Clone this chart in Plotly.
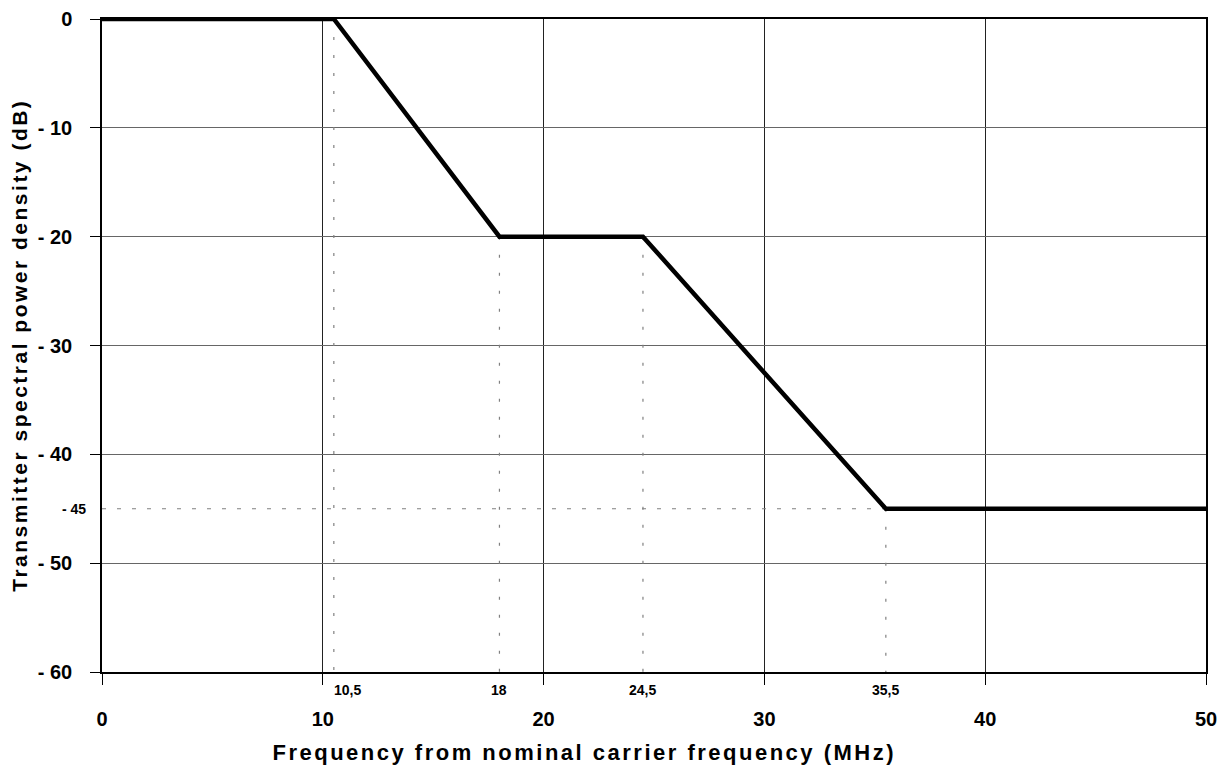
import plotly.graph_objects as go

# Data
freq = [0, 10.5, 18, 24.5, 35.5, 50]
psd = [0, 0, -20, -20, -45, -45]

x_ticks = [0, 10, 20, 30, 40, 50]
y_ticks = [0, -10, -20, -30, -40, -50, -60]
y_tick_text = ["0", "- 10", "- 20", "- 30", "- 40", "- 50", "- 60"]

marker_x = [10.5, 18, 24.5, 35.5]
marker_x_text = ["10,5", "18", "24,5", "35,5"]
marker_x_top = [0, -20, -20, -45]
level_y = -45
level_y_text = "- 45"

x_title = "Frequency from nominal carrier frequency (MHz)"
y_title = "Transmitter spectral power density (dB)"

FONT = "Arial, Liberation Sans, sans-serif"

fig = go.Figure()

# dotted helper lines
for xv, ytop in zip(marker_x, marker_x_top):
    fig.add_trace(go.Scatter(x=[xv, xv], y=[ytop, -60], mode="lines",
                             line=dict(color="#808080", width=1.2, dash="3px,15px"),
                             hoverinfo="skip", showlegend=False))
fig.add_trace(go.Scatter(x=[0, marker_x[-1]], y=[level_y, level_y], mode="lines",
                         line=dict(color="#808080", width=1.2, dash="4px,11px"),
                         hoverinfo="skip", showlegend=False))

# main curve
fig.add_trace(go.Scatter(x=freq, y=psd, mode="lines",
                         line=dict(color="black", width=4.5),
                         showlegend=False))

annotations = []
offsets = {"10,5": 14}
for xv, t in zip(marker_x, marker_x_text):
    annotations.append(dict(x=xv, y=0, xref="x", yref="paper", text=t,
                            showarrow=False, yanchor="middle", yshift=-18,
                            xshift=offsets.get(t, 0),
                            font=dict(family=FONT, size=14, color="black", weight=700)))
annotations.append(dict(x=0, y=level_y, xref="paper", yref="y", text=level_y_text,
                        showarrow=False, xanchor="right", xshift=-14,
                        font=dict(family=FONT, size=14, color="black", weight=700)))
annotations.append(dict(x=0.4366, y=0, xref="paper", yref="paper",
                        text=x_title,
                        showarrow=False, yanchor="middle", yshift=-80,
                        font=dict(family=FONT, size=22, color="black", weight=700)))
annotations.append(dict(x=0, y=0.5008, xref="paper", yref="paper",
                        text=y_title,
                        showarrow=False, textangle=-90, xanchor="center", xshift=-82,
                        font=dict(family=FONT, size=21, color="black", weight=700)))

fig.update_layout(
    width=1220, height=769,
    margin=dict(l=102, r=14, t=19, b=97),
    plot_bgcolor="white", paper_bgcolor="white",
    annotations=annotations,
    xaxis=dict(range=[0, 50], tickvals=x_ticks, ticktext=[str(v) for v in x_ticks],
               showgrid=True, gridcolor="#222222", gridwidth=1,
               ticks="outside", ticklen=11, tickcolor="black", tickwidth=1,
               showline=True, linecolor="black", linewidth=1.5, mirror=True,
               zeroline=False, ticklabelstandoff=17, automargin=False,
               tickfont=dict(family=FONT, size=20, color="black", weight=700)),
    yaxis=dict(range=[-60, 0], tickvals=y_ticks, ticktext=y_tick_text,
               showgrid=True, gridcolor="#666666", gridwidth=1,
               ticks="outside", ticklen=10, tickcolor="black", tickwidth=1,
               showline=True, linecolor="black", linewidth=1.5, mirror=True,
               zeroline=False, ticklabelstandoff=14, automargin=False,
               tickfont=dict(family=FONT, size=20, color="black", weight=700)),
)

post = """
document.querySelectorAll('.annotation-text').forEach(function(t){
  var s = t.textContent;
  if (s.indexOf('Frequency from') === 0 || s.indexOf('Transmitter') === 0) {
    t.style.letterSpacing = '2.5px';
  }
});
"""

fig.write_html("out.html", post_script=post)
